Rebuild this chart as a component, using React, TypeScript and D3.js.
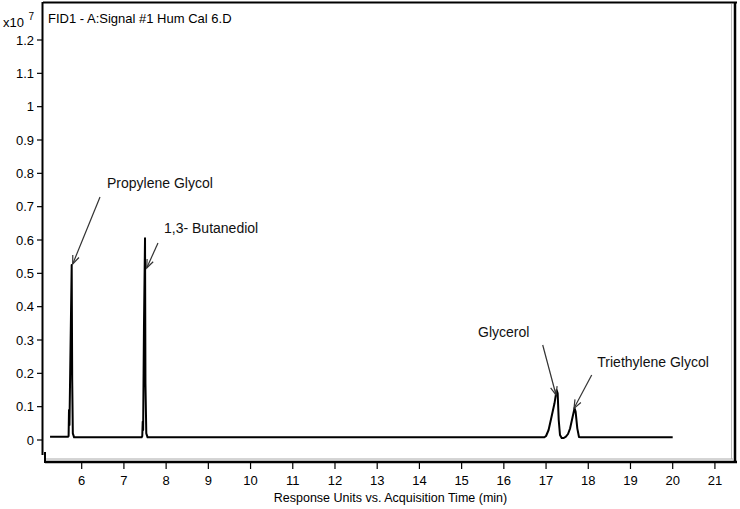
import React from "react";
import * as d3 from "d3";

// Retention time (min) and detector response (x10^7)
const times = [
  5.25, 5.68, 5.69, 5.699, 5.71, 5.74, 5.763, 5.775, 5.79, 5.82,
  7.42, 7.435, 7.445, 7.455, 7.475, 7.5, 7.51, 7.53, 7.56,
  16.96, 17.0, 17.06, 17.13, 17.2, 17.25, 17.275, 17.3, 17.33, 17.37, 17.42,
  17.47, 17.52, 17.57, 17.63, 17.675, 17.7, 17.74, 17.78, 17.82,
  20.0,
];
const signal = [
  0.01, 0.01, 0.012, 0.09, 0.045, 0.32, 0.525, 0.18, 0.02, 0.008,
  0.008, 0.012, 0.055, 0.03, 0.34, 0.605, 0.17, 0.02, 0.008,
  0.008, 0.012, 0.03, 0.07, 0.11, 0.15, 0.14, 0.06, 0.015, 0.006, 0.006,
  0.01, 0.018, 0.035, 0.07, 0.095, 0.085, 0.035, 0.009, 0.008,
  0.008,
];

const yTicks = [0, 0.1, 0.2, 0.3, 0.4, 0.5, 0.6, 0.7, 0.8, 0.9, 1.0, 1.1, 1.2];
const xTicks = [6, 7, 8, 9, 10, 11, 12, 13, 14, 15, 16, 17, 18, 19, 20, 21];

const annotationLabels = ["Propylene Glycol", "1,3- Butanediol", "Glycerol", "Triethylene Glycol"];
const labelTime = [6.6, 7.95, 15.39, 18.214];
const labelValue = [0.756, 0.621, 0.309, 0.22];
const arrowFromTime = [6.434, 7.807, 16.921, 18.081];
const arrowFromValue = [0.729, 0.591, 0.285, 0.195];
const arrowToTime = [5.787, 7.54, 17.236, 17.662];
const arrowToValue = [0.528, 0.516, 0.135, 0.095];

const titleText = "FID1 - A:Signal #1 Hum Cal 6.D";
const xTitle = "Response Units vs. Acquisition Time (min)";

const FONT = "'Liberation Sans', Arial, sans-serif";

export default function App() {
  const x = d3.scaleLinear().domain([6, 20]).range([81.7, 672.7]);
  const y = d3.scaleLinear().domain([0, 1.2]).range([440, 40]);

  const pts: [number, number][] = times.map((t, i) => [t, signal[i]]);
  const line = d3
    .line<[number, number]>()
    .x((d) => x(d[0]))
    .y((d) => y(d[1]));

  const fmt = d3.format("~g");

  const arrows = annotationLabels.map((label, i) => {
    const x1 = x(arrowFromTime[i]);
    const y1 = y(arrowFromValue[i]);
    const x2 = x(arrowToTime[i]);
    const y2 = y(arrowToValue[i]);
    const ang = Math.atan2(y2 - y1, x2 - x1);
    const len = 9;
    const spread = 0.38;
    const hx1 = x2 - len * Math.cos(ang - spread);
    const hy1 = y2 - len * Math.sin(ang - spread);
    const hx2 = x2 - len * Math.cos(ang + spread);
    const hy2 = y2 - len * Math.sin(ang + spread);
    return (
      <g key={label}>
        <text
          x={x(labelTime[i])}
          y={y(labelValue[i])}
          fontSize={14}
          fontFamily={FONT}
          fill="#111"
        >
          {label}
        </text>
        <line x1={x1} y1={y1} x2={x2} y2={y2} stroke="#333" strokeWidth={1.2} />
        <polyline
          points={`${hx1},${hy1} ${x2},${y2} ${hx2},${hy2}`}
          fill="none"
          stroke="#333"
          strokeWidth={1.2}
        />
      </g>
    );
  });

  return (
    <svg
      width={740}
      height={509}
      style={{ position: "absolute", left: 0, top: 0, background: "#fff" }}
    >
      <rect x={0} y={0} width={740} height={509} fill="#fff" />
      {/* frame */}
      <line x1={43} y1={2.5} x2={737} y2={2.5} stroke="#000" strokeWidth={2} />
      <line x1={731.5} y1={4} x2={731.5} y2={459} stroke="#bbb" strokeWidth={1} />
      <line x1={735} y1={2} x2={735} y2={463} stroke="#000" strokeWidth={2.5} />
      <line x1={46} y1={459} x2={733} y2={459} stroke="#aaa" strokeWidth={1} />
      <line x1={45} y1={462} x2={737} y2={462} stroke="#000" strokeWidth={2.5} />
      <line x1={45} y1={452} x2={45} y2={463} stroke="#000" strokeWidth={2} />
      {/* y axis */}
      <line x1={42.5} y1={2} x2={42.5} y2={455} stroke="#000" strokeWidth={2} />
      {yTicks.map((v) => (
        <g key={"y" + v}>
          <line x1={37} x2={42} y1={y(v)} y2={y(v)} stroke="#000" strokeWidth={1.2} />
          <text
            x={34}
            y={y(v)}
            dy="0.35em"
            textAnchor="end"
            fontSize={13}
            fontFamily={FONT}
            fill="#000"
          >
            {fmt(v)}
          </text>
        </g>
      ))}
      {/* x axis ticks */}
      {xTicks.map((t) => (
        <g key={"x" + t}>
          <line x1={x(t)} x2={x(t)} y1={463} y2={469} stroke="#000" strokeWidth={1.2} />
          <text
            x={x(t)}
            y={485}
            textAnchor="middle"
            fontSize={13}
            fontFamily={FONT}
            fill="#000"
          >
            {t}
          </text>
        </g>
      ))}
      <text
        x={390.5}
        y={502}
        textAnchor="middle"
        fontSize={12.5}
        fontFamily={FONT}
        fill="#000"
      >
        {xTitle}
      </text>
      {/* multiplier */}
      <text x={3} y={27} fontSize={13} fontFamily={FONT} fill="#000">
        x10
      </text>
      <text x={28.5} y={20} fontSize={10} fontFamily={FONT} fill="#000">
        7
      </text>
      {/* title */}
      <text x={48} y={23} fontSize={13} fontFamily={FONT} fill="#000">
        {titleText}
      </text>
      {/* trace */}
      <path
        d={line(pts) || ""}
        fill="none"
        stroke="#000"
        strokeWidth={2}
        strokeLinejoin="round"
      />
      {arrows}
    </svg>
  );
}
